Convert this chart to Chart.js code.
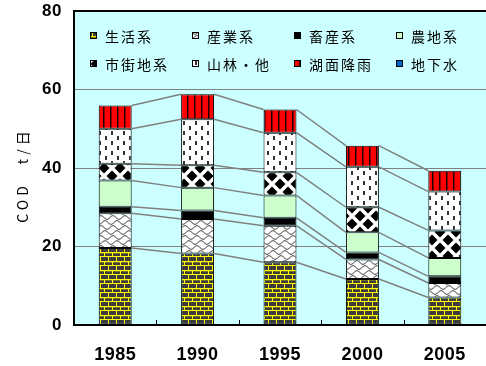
<!DOCTYPE html>
<html><head><meta charset="utf-8">
<script src="https://cdn.jsdelivr.net/npm/chart.js@4/dist/chart.umd.min.js"></script>
<style>html,body{margin:0;padding:0;background:#fff;} canvas{display:block;}</style>
</head><body>
<canvas id="c" width="486" height="366"></canvas>
<script>
// ---- data (COD t/日) ----
const years = ['1985', '1990', '1995', '2000', '2005'];
const seikatsu  = [19.6, 18.2, 16.0, 11.7, 7.0];   // 生活系
const sangyo    = [8.9, 8.8, 9.3, 5.0, 3.7];       // 産業系
const chikusan  = [1.6, 2.2, 2.0, 1.8, 1.7];       // 畜産系
const nochi     = [6.7, 5.8, 5.7, 5.1, 4.7];       // 農地系
const shigaichi = [4.3, 5.7, 5.9, 6.4, 7.0];       // 市街地系
const sanrin    = [8.9, 11.7, 10.1, 10.3, 9.9];    // 山林・他
const komen     = [5.9, 6.4, 5.9, 5.4, 5.3];       // 湖面降雨
const chikasui  = [0, 0, 0, 0, 0];                 // 地下水
const seriesNames = ['生活系', '産業系', '畜産系', '農地系', '市街地系', '山林・他', '湖面降雨', '地下水'];
const yTicks = [0, 20, 40, 60, 80];
const yTitle = 'COD　t/日';

// ---- patterns ----
function tile(w, h, draw) {
  const c = document.createElement('canvas'); c.width = w; c.height = h;
  const g = c.getContext('2d'); draw(g, w, h);
  return document.getElementById('c').getContext('2d').createPattern(c, 'repeat');
}
const pBrick = tile(8, 9, (g) => {
  g.fillStyle = '#3c3c3c'; g.fillRect(0, 0, 8, 9);
  g.fillStyle = '#ffff00';
  g.fillRect(0, 0, 8, 1); g.fillRect(0, 4, 8, 1);
  g.fillRect(0, 0, 1, 4); g.fillRect(4, 4, 1, 5);
  g.fillStyle = '#9a9a00';
  g.fillRect(1, 1, 7, 0.6);
});
const pWave = tile(12, 10, (g) => {
  g.fillStyle = '#fff'; g.fillRect(0, 0, 12, 10);
  g.strokeStyle = '#222'; g.lineWidth = 1;
  [[2.5, 0], [7.5, 4]].forEach(([y0, ph]) => {
    g.beginPath();
    for (let x = -1; x <= 13; x += 0.5) {
      const y = y0 + 1.8 * Math.sin(2 * Math.PI * (x + ph) / 12);
      if (x === -1) g.moveTo(x, y); else g.lineTo(x, y);
    }
    g.stroke();
  });
});
const pDiamond = tile(16, 16, (g) => {
  g.fillStyle = '#fff'; g.fillRect(0, 0, 16, 16);
  g.fillStyle = '#000';
  const d = 5.5;
  [[0, 0], [16, 0], [0, 16], [16, 16], [8, 8]].forEach(([cx, cy]) => {
    g.beginPath(); g.moveTo(cx - d, cy); g.lineTo(cx, cy - d); g.lineTo(cx + d, cy); g.lineTo(cx, cy + d); g.closePath(); g.fill();
  });
});
const pDash = tile(12, 10, (g) => {
  g.fillStyle = '#fff'; g.fillRect(0, 0, 12, 10);
  g.fillStyle = '#333';
  g.fillRect(3, 1, 2, 4); g.fillRect(9, 6, 2, 4);
});
const pRed = tile(7, 2, (g) => {
  g.fillStyle = '#ff0000'; g.fillRect(0, 0, 7, 2);
  g.fillStyle = '#200000'; g.fillRect(5, 0, 1, 2);
  g.fillStyle = '#900000'; g.fillRect(6, 0, 1, 2);
});

const fills = [pBrick, pWave, '#000000', '#ccffcc', pDiamond, pDash, pRed, '#0066cc'];
const seriesData = [seikatsu, sangyo, chikusan, nochi, shigaichi, sanrin, komen, chikasui];

const NUMF = "'Liberation Sans', Arial, sans-serif";
const JP = "'Noto Sans CJK JP', 'Noto Sans', sans-serif";

const decor = {
  id: 'decor',
  beforeDraw(chart) {
    const { ctx, chartArea: a } = chart;
    ctx.save();
    ctx.fillStyle = '#fff'; ctx.fillRect(0, 0, chart.width, chart.height);
    ctx.fillStyle = '#ccffff'; ctx.fillRect(a.left, a.top, a.right - a.left, a.bottom - a.top);
    ctx.restore();
    ctx.letterSpacing = '0.5px';
  },
  beforeDatasetsDraw(chart) {
    const ctx = chart.ctx;
    ctx.save(); ctx.strokeStyle = '#808080'; ctx.lineWidth = 1.5;
    for (let d = 0; d < 7; d++) {
      const els = chart.getDatasetMeta(d).data;
      for (let i = 0; i < els.length - 1; i++) {
        const p = els[i], q = els[i + 1];
        ctx.beginPath(); ctx.moveTo(p.x + p.width / 2, p.y); ctx.lineTo(q.x - q.width / 2, q.y); ctx.stroke();
      }
    }
    ctx.restore();
  },
  afterDraw(chart) {
    const { ctx, chartArea: a, scales } = chart;
    ctx.save();
    ctx.letterSpacing = '0px';
    // x-axis inner tick marks between categories
    ctx.strokeStyle = '#000'; ctx.lineWidth = 1;
    for (let i = 0; i < years.length - 1; i++) {
      const xb = Math.round((scales.x.getPixelForValue(i) + scales.x.getPixelForValue(i + 1)) / 2) + 0.5;
      ctx.beginPath(); ctx.moveTo(xb, a.bottom); ctx.lineTo(xb, a.bottom - 5); ctx.stroke();
    }
    // legend box top border
    ctx.fillStyle = '#000'; ctx.fillRect(a.left - 1, a.top - 1, a.right - a.left + 1, 2);
    // legend entries
    const cols = [90, 192, 294, 396], rows = [36, 64];
    ctx.font = '14px ' + JP; ctx.textBaseline = 'middle'; ctx.textAlign = 'left';
    ctx.letterSpacing = '2px';
    seriesNames.forEach((name, k) => {
      const x = cols[k % 4], y = rows[Math.floor(k / 4)];
      ctx.fillStyle = fills[k]; ctx.fillRect(x, y - 4, 7, 7);
      ctx.strokeStyle = '#000'; ctx.lineWidth = 1; ctx.strokeRect(x + 0.5, y - 3.5, 6, 6);
      ctx.fillStyle = '#000'; ctx.fillText(name, x + 15, y + 1);
    });
    // y-axis title
    ctx.translate(23, 175); ctx.rotate(-Math.PI / 2);
    ctx.font = '14px ' + JP; ctx.textAlign = 'center'; ctx.letterSpacing = '4px';
    ctx.fillStyle = '#000'; ctx.fillText(yTitle, 0, 0);
    ctx.restore();
  }
};

new Chart(document.getElementById('c'), {
  type: 'bar',
  data: {
    labels: years,
    datasets: seriesNames.map((name, k) => ({
      label: name,
      data: seriesData[k],
      backgroundColor: fills[k],
      borderColor: '#000',
      borderWidth: k === 7 ? 0 : 1,
      borderSkipped: false,
      categoryPercentage: 1,
      barPercentage: 0.4
    }))
  },
  options: {
    responsive: false, animation: false, devicePixelRatio: 1,
    layout: { padding: { top: 11, right: 0, bottom: 0, left: 0 } },
    plugins: { legend: { display: false }, tooltip: { enabled: false } },
    scales: {
      x: {
        stacked: true,
        grid: { display: false },
        border: { color: '#000', width: 2 },
        ticks: { color: '#000', padding: 11, font: { family: NUMF, size: 18, weight: 'bold' } },
        afterFit: (s) => { s.height = 41; s.paddingLeft = 0; s.paddingRight = 0; }
      },
      y: {
        stacked: true, min: 0, max: 80,
        afterBuildTicks: (s) => { s.ticks = yTicks.map(v => ({ value: v })); },
        grid: { color: '#808080', lineWidth: 1, drawTicks: false },
        border: { color: '#000', width: 2 },
        ticks: { color: '#000', padding: 12, font: { family: NUMF, size: 17, weight: 'bold' } },
        afterFit: (s) => { s.width = 74; s.paddingTop = 0; s.paddingBottom = 0; }
      }
    }
  },
  plugins: [decor]
});
</script>
</body></html>
